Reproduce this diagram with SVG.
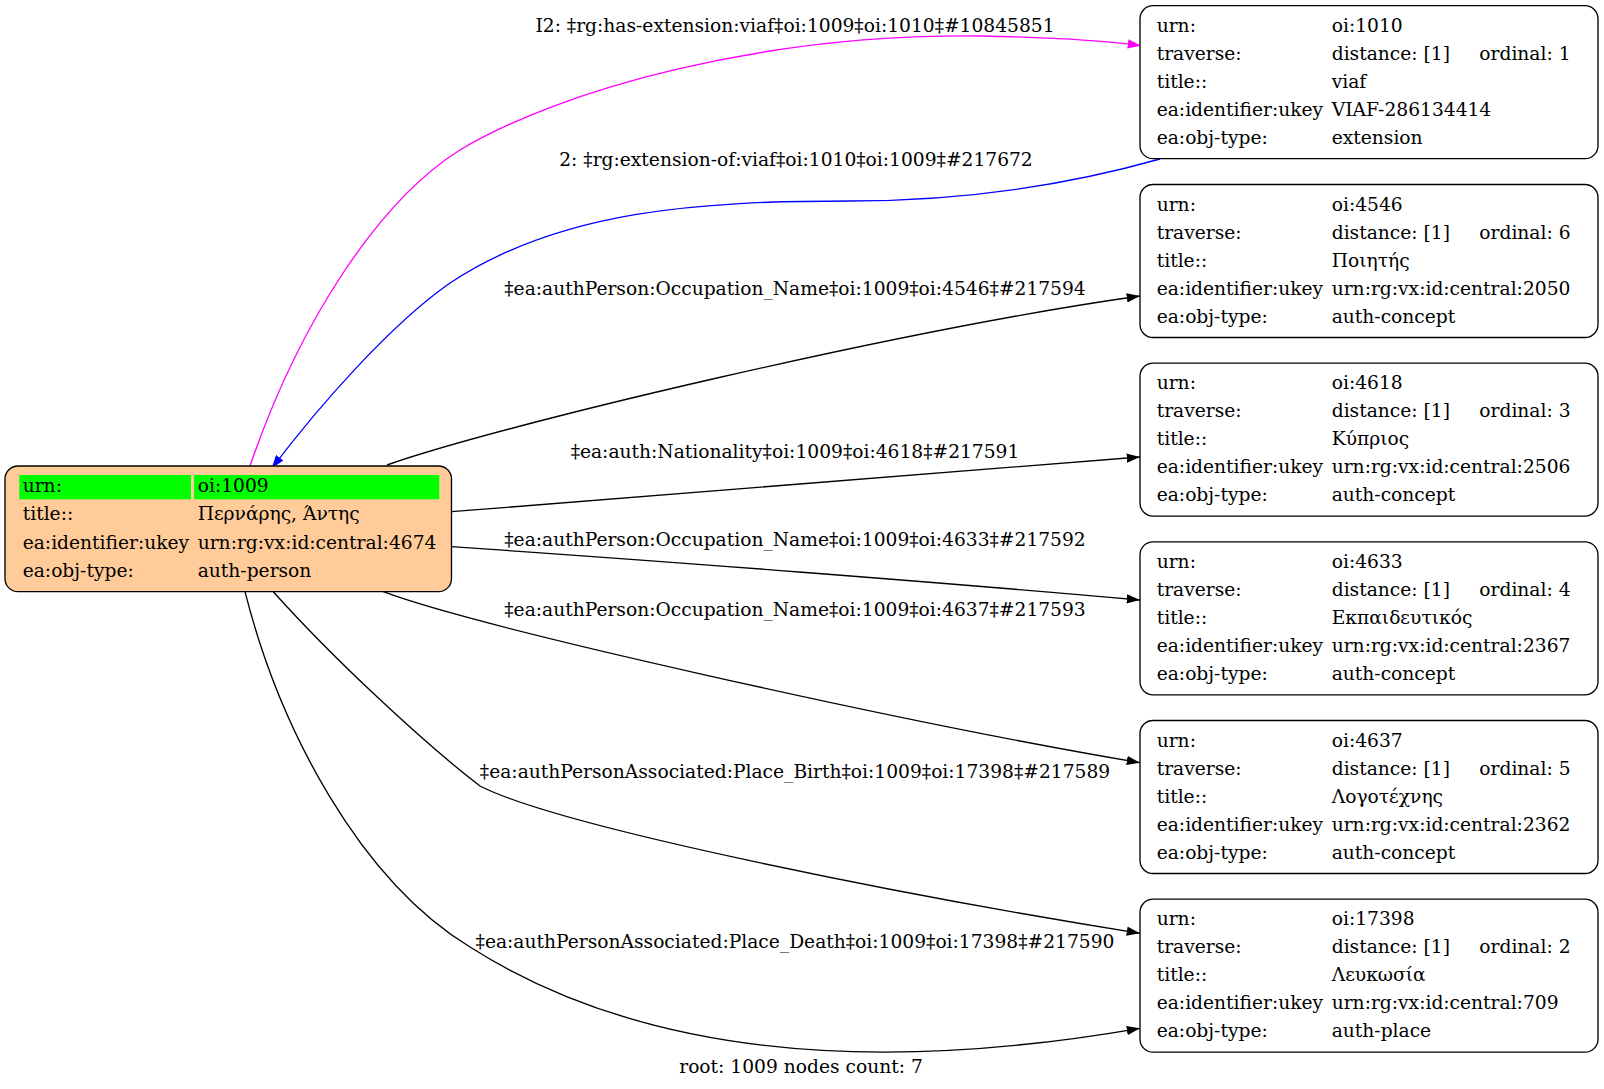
<svg xmlns="http://www.w3.org/2000/svg" width="1604" height="1089" viewBox="0 0 1604 1089">
<style>
text{font-family:"DejaVu Serif","Liberation Serif",serif;font-size:18.67px;fill:#000}
.lbl{text-anchor:middle}
.node{fill:#fff;stroke:#000;stroke-width:1.33}
.root{fill:#ffcc99;stroke:#000;stroke-width:1.33}
.e{fill:none;stroke:#000;stroke-width:1.33}
</style>
<defs>
<marker id="ab" viewBox="0 0 10 7" refX="10" refY="3.5" markerUnits="userSpaceOnUse" markerWidth="13.3" markerHeight="9.3" orient="auto"><path d="M0,0L10,3.5L0,7z" fill="#000"/></marker>
<marker id="am" viewBox="0 0 10 7" refX="10" refY="3.5" markerUnits="userSpaceOnUse" markerWidth="13.3" markerHeight="9.3" orient="auto"><path d="M0,0L10,3.5L0,7z" fill="#ff00ff"/></marker>
<marker id="abl" viewBox="0 0 10 7" refX="10" refY="3.5" markerUnits="userSpaceOnUse" markerWidth="13.3" markerHeight="9.3" orient="auto"><path d="M0,0L10,3.5L0,7z" fill="#0000ff"/></marker>
</defs>
<rect width="1604" height="1089" fill="#fff"/>
<g id="connectors">
<path class="e" style="stroke:#ff00ff" marker-end="url(#am)" d="M250,466 C300,320 380,200 460,150 C560,90 760,33.7 980,36 C1040,37 1100,40 1141,45.7"/>
<path class="e" style="stroke:#0000ff" marker-end="url(#abl)" d="M1160,159 C1050,190 950,201 850,201 C700,201 560,210 450,283 C390,325 320,405 271.7,468.3"/>
<path class="e" marker-end="url(#ab)" d="M387,465 C500,425 900,330 1140,296"/>
<path class="e" marker-end="url(#ab)" d="M451.5,511.7 C650,496 950,472 1140,457"/>
<path class="e" marker-end="url(#ab)" d="M451.5,546.7 C650,560 950,583 1140,600"/>
<path class="e" marker-end="url(#ab)" d="M383.3,591.7 C480,628 900,722 1140,762.7"/>
<path class="e" marker-end="url(#ab)" d="M273.3,591.7 C330,655 420,740 480,786 C560,827 900,895 1140,933.3"/>
<path class="e" marker-end="url(#ab)" d="M245,591.7 C280,730 360,880 470,947 C640,1055 870,1075 1140,1028.3"/>
<text class="lbl" x="795" y="31.7">I2: ‡rg:has-extension:viaf‡oi:1009‡oi:1010‡#10845851</text>
<text class="lbl" x="796" y="166">2: ‡rg:extension-of:viaf‡oi:1010‡oi:1009‡#217672</text>
<text class="lbl" x="795" y="295">‡ea:authPerson:Occupation_Name‡oi:1009‡oi:4546‡#217594</text>
<text class="lbl" x="795" y="458">‡ea:auth:Nationality‡oi:1009‡oi:4618‡#217591</text>
<text class="lbl" x="795" y="546">‡ea:authPerson:Occupation_Name‡oi:1009‡oi:4633‡#217592</text>
<text class="lbl" x="795" y="616">‡ea:authPerson:Occupation_Name‡oi:1009‡oi:4637‡#217593</text>
<text class="lbl" x="795" y="777.5">‡ea:authPersonAssociated:Place_Birth‡oi:1009‡oi:17398‡#217589</text>
<text class="lbl" x="795" y="948">‡ea:authPersonAssociated:Place_Death‡oi:1009‡oi:17398‡#217590</text>
</g>
<g id="n1009">
<rect class="root" x="5" y="466" width="446.5" height="125.7" rx="13"/>
<rect x="19.3" y="475" width="171.7" height="24.3" fill="#00ff00"/>
<rect x="194" y="475" width="245.3" height="24.3" fill="#00ff00"/>
<text x="22.7" y="491.5">urn:</text><text x="197.7" y="491.5">oi:1009</text>
<text x="22.7" y="520">title::</text><text x="197.7" y="520">Περνάρης, Άντης</text>
<text x="22.7" y="548.5">ea:identifier:ukey</text><text x="197.7" y="548.5">urn:rg:vx:id:central:4674</text>
<text x="22.7" y="577">ea:obj-type:</text><text x="197.7" y="577">auth-person</text>
</g>
<g id="n1010">
<rect class="node" x="1140" y="5.7" width="458" height="153" rx="13"/>
<text x="1156.7" y="31.7">urn:</text><text x="1331.7" y="31.7">oi:1010</text>
<text x="1156.7" y="59.7">traverse:</text><text x="1331.7" y="59.7">distance: [1]</text><text x="1479.3" y="59.7">ordinal: 1</text>
<text x="1156.7" y="87.7">title::</text><text x="1331.7" y="87.7">viaf</text>
<text x="1156.7" y="115.7">ea:identifier:ukey</text><text x="1331.7" y="115.7">VIAF-286134414</text>
<text x="1156.7" y="143.7">ea:obj-type:</text><text x="1331.7" y="143.7">extension</text>
</g>
<g id="n4546">
<rect class="node" x="1140" y="184.5" width="458" height="153" rx="13"/>
<text x="1156.7" y="210.5">urn:</text><text x="1331.7" y="210.5">oi:4546</text>
<text x="1156.7" y="238.5">traverse:</text><text x="1331.7" y="238.5">distance: [1]</text><text x="1479.3" y="238.5">ordinal: 6</text>
<text x="1156.7" y="266.5">title::</text><text x="1331.7" y="266.5">Ποιητής</text>
<text x="1156.7" y="294.5">ea:identifier:ukey</text><text x="1331.7" y="294.5">urn:rg:vx:id:central:2050</text>
<text x="1156.7" y="322.5">ea:obj-type:</text><text x="1331.7" y="322.5">auth-concept</text>
</g>
<g id="n4618">
<rect class="node" x="1140" y="363.1" width="458" height="153" rx="13"/>
<text x="1156.7" y="389.1">urn:</text><text x="1331.7" y="389.1">oi:4618</text>
<text x="1156.7" y="417.1">traverse:</text><text x="1331.7" y="417.1">distance: [1]</text><text x="1479.3" y="417.1">ordinal: 3</text>
<text x="1156.7" y="445.1">title::</text><text x="1331.7" y="445.1">Κύπριος</text>
<text x="1156.7" y="473.1">ea:identifier:ukey</text><text x="1331.7" y="473.1">urn:rg:vx:id:central:2506</text>
<text x="1156.7" y="501.1">ea:obj-type:</text><text x="1331.7" y="501.1">auth-concept</text>
</g>
<g id="n4633">
<rect class="node" x="1140" y="541.8" width="458" height="153" rx="13"/>
<text x="1156.7" y="567.8">urn:</text><text x="1331.7" y="567.8">oi:4633</text>
<text x="1156.7" y="595.8">traverse:</text><text x="1331.7" y="595.8">distance: [1]</text><text x="1479.3" y="595.8">ordinal: 4</text>
<text x="1156.7" y="623.8">title::</text><text x="1331.7" y="623.8">Εκπαιδευτικός</text>
<text x="1156.7" y="651.8">ea:identifier:ukey</text><text x="1331.7" y="651.8">urn:rg:vx:id:central:2367</text>
<text x="1156.7" y="679.8">ea:obj-type:</text><text x="1331.7" y="679.8">auth-concept</text>
</g>
<g id="n4637">
<rect class="node" x="1140" y="720.5" width="458" height="153" rx="13"/>
<text x="1156.7" y="746.5">urn:</text><text x="1331.7" y="746.5">oi:4637</text>
<text x="1156.7" y="774.5">traverse:</text><text x="1331.7" y="774.5">distance: [1]</text><text x="1479.3" y="774.5">ordinal: 5</text>
<text x="1156.7" y="802.5">title::</text><text x="1331.7" y="802.5">Λογοτέχνης</text>
<text x="1156.7" y="830.5">ea:identifier:ukey</text><text x="1331.7" y="830.5">urn:rg:vx:id:central:2362</text>
<text x="1156.7" y="858.5">ea:obj-type:</text><text x="1331.7" y="858.5">auth-concept</text>
</g>
<g id="n17398">
<rect class="node" x="1140" y="899.2" width="458" height="153" rx="13"/>
<text x="1156.7" y="925.2">urn:</text><text x="1331.7" y="925.2">oi:17398</text>
<text x="1156.7" y="953.2">traverse:</text><text x="1331.7" y="953.2">distance: [1]</text><text x="1479.3" y="953.2">ordinal: 2</text>
<text x="1156.7" y="981.2">title::</text><text x="1331.7" y="981.2">Λευκωσία</text>
<text x="1156.7" y="1009.2">ea:identifier:ukey</text><text x="1331.7" y="1009.2">urn:rg:vx:id:central:709</text>
<text x="1156.7" y="1037.2">ea:obj-type:</text><text x="1331.7" y="1037.2">auth-place</text>
</g>
<text x="801" y="1073.3" class="lbl">root: 1009 nodes count: 7</text>
</svg>
